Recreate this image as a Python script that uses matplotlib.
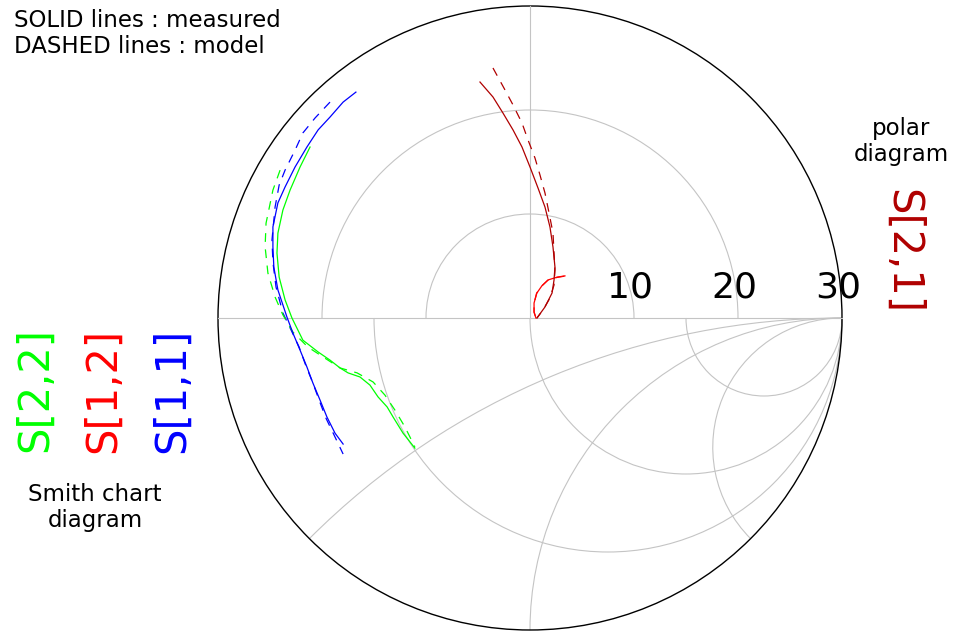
"""Smith chart (lower half) + polar diagram (upper half) of measured vs model S-parameters."""
import numpy as np
import matplotlib
matplotlib.use("Agg")
import matplotlib.pyplot as plt
from matplotlib.patches import Arc, Circle

# S11, S22, S12 are reflection-type data on the Smith chart (unit circle = |G| 1).
s11_meas_re = [-0.558, -0.599, -0.641, -0.679, -0.715, -0.753, -0.785, -0.808, -0.824, -0.824, -0.821,
               -0.808, -0.779, -0.760, -0.737, -0.715, -0.696, -0.673, -0.651, -0.625, -0.599]
s11_meas_im = [0.724, 0.692, 0.644, 0.603, 0.548, 0.484, 0.420, 0.369, 0.292, 0.228, 0.163,
               0.090, 0.003, -0.048, -0.103, -0.157, -0.208, -0.263, -0.317, -0.369, -0.404]
s11_model_re = [-0.641, -0.689, -0.728, -0.753, -0.785, -0.804, -0.817, -0.827, -0.824, -0.814,
                -0.792, -0.766, -0.740, -0.718, -0.696, -0.676, -0.654, -0.628, -0.599]
s11_model_im = [0.692, 0.641, 0.593, 0.538, 0.474, 0.426, 0.356, 0.250, 0.179, 0.099,
                0.016, -0.038, -0.093, -0.154, -0.208, -0.263, -0.321, -0.375, -0.436]

s22_meas_re = [-0.705, -0.737, -0.769, -0.792, -0.808, -0.811, -0.804, -0.785, -0.763, -0.728, -0.679,
               -0.641, -0.609, -0.583, -0.545, -0.513, -0.487, -0.458, -0.439, -0.407, -0.369]
s22_meas_im = [0.548, 0.484, 0.410, 0.346, 0.272, 0.208, 0.131, 0.058, 0.000, -0.071, -0.109,
               -0.135, -0.160, -0.176, -0.189, -0.215, -0.253, -0.285, -0.317, -0.369, -0.417]
s22_model_re = [-0.801, -0.824, -0.846, -0.849, -0.840, -0.817, -0.792, -0.760, -0.712, -0.663,
                -0.609, -0.554, -0.503, -0.465, -0.433, -0.401, -0.369]
s22_model_im = [0.474, 0.410, 0.304, 0.228, 0.144, 0.067, 0.010, -0.045, -0.093, -0.125,
                -0.160, -0.176, -0.205, -0.247, -0.295, -0.349, -0.413]

s12_meas_re = [0.112, 0.087, 0.058, 0.038, 0.022, 0.013, 0.013, 0.019]
s12_meas_im = [0.135, 0.131, 0.122, 0.103, 0.080, 0.048, 0.019, 0.000]
s12_model_re = [0.110, 0.086, 0.057, 0.037, 0.021, 0.013, 0.013, 0.019]
s12_model_im = [0.134, 0.130, 0.121, 0.102, 0.079, 0.047, 0.019, 0.000]

# S21 is a gain, shown on the polar diagram (outer circle = 30).
s21_meas_re = [-4.81, -3.56, -2.60, -1.63, -0.77, 0.00, 0.77, 1.44, 1.92, 2.21, 2.40, 2.31, 2.12, 1.44, 0.67]
s21_meas_im = [22.69, 21.25, 19.71, 18.08, 16.44, 14.52, 12.50, 10.67, 8.75, 6.83, 4.90, 3.65, 2.40, 1.06, 0.00]
s21_model_re = [-3.56, -2.40, -1.63, -0.77, -0.19, 0.48, 0.96, 1.44, 1.83, 2.21, 2.31, 2.40, 2.31, 1.92, 1.25, 0.67]
s21_model_im = [24.04, 21.92, 20.48, 18.75, 17.12, 15.38, 13.75, 12.02, 10.10, 8.17, 6.25, 4.62, 3.17, 1.92, 0.77, 0.00]

polar_rings = [10, 20, 30]
smith_r = [1 / 3, 1, 3]
smith_x = [np.sqrt(2) - 1, 1, np.sqrt(2) + 1]

GRID = "#c4c4c4"
W, H = 960, 638
CX, CY, R = 530, 318, 312   # chart centre / radius in pixels

fig = plt.figure(figsize=(W / 100, H / 100), dpi=100)
ax = fig.add_axes([0, 0, 1, 1])
ax.set_xlim(-CX / R, (W - CX) / R)
ax.set_ylim(-(H - CY) / R, CY / R)
ax.set_aspect("equal")
ax.axis("off")

# upper half: polar grid
pmax = polar_rings[-1]
for r in polar_rings[:-1]:
    ax.add_patch(Arc((0, 0), 2 * r / pmax, 2 * r / pmax, theta1=0, theta2=180, color=GRID, lw=0.8))
ax.plot([0, 0], [0, 1], color=GRID, lw=0.8)
ax.plot([-1, 1], [0, 0], color=GRID, lw=0.8)

# lower half: Smith grid
for r in smith_r:
    ax.add_patch(Arc((r / (1 + r), 0), 2 / (1 + r), 2 / (1 + r), theta1=180, theta2=360, color=GRID, lw=0.8))
for x in smith_x:
    c = 1 / x
    px, py = (x * x - 1) / (x * x + 1), -2 * x / (x * x + 1)
    end = np.degrees(np.arctan2(py + c, px - 1))
    ax.add_patch(Arc((1, -c), 2 * c, 2 * c, theta1=90, theta2=end, color=GRID, lw=0.8))

ax.add_patch(Circle((0, 0), 1, fill=False, color="black", lw=1.0))

# curves
dash = (0, (7, 6))
for re, im, col, ls in [
    (s11_model_re, s11_model_im, "#0000ff", dash),
    (s22_model_re, s22_model_im, "#00ff00", dash),
    (s12_model_re, s12_model_im, "#ff0000", dash),
    (s11_meas_re, s11_meas_im, "#0000ff", "-"),
    (s22_meas_re, s22_meas_im, "#00ff00", "-"),
    (s12_meas_re, s12_meas_im, "#ff0000", "-"),
]:
    ax.plot(re, im, color=col, lw=0.9, ls=ls)

ax.plot(np.array(s21_model_re) / pmax, np.array(s21_model_im) / pmax, color="#b00000", lw=0.9, ls=dash)
ax.plot(np.array(s21_meas_re) / pmax, np.array(s21_meas_im) / pmax, color="#b00000", lw=0.9)


def fpos(x, y):
    return x / W, 1 - y / H


# ring labels
for r in polar_rings:
    fig.text(*fpos(CX + R * r / pmax - 4, 298), str(r), fontsize=26, ha="center", va="baseline")

fig.text(*fpos(14, 9), "SOLID lines : measured\nDASHED lines : model", fontsize=16.5, ha="left", va="top",
         linespacing=1.15)
fig.text(*fpos(95, 483), "Smith chart\ndiagram", fontsize=16.5, ha="center", va="top", linespacing=1.15)
fig.text(*fpos(901, 117), "polar\ndiagram", fontsize=16.5, ha="center", va="top", linespacing=1.15)

for xc, label, col in [(35, "S[2,2]", "#00ff00"), (103, "S[1,2]", "#ff0000"), (172, "S[1,1]", "#0000ff")]:
    fig.text(*fpos(xc, 390), label, fontsize=30, color=col, rotation=90, ha="center", va="center")
fig.text(*fpos(903, 252), "S[2,1]", fontsize=30, color="#b00000", rotation=-90, ha="center", va="center")

fig.savefig("out.png", dpi=100)
